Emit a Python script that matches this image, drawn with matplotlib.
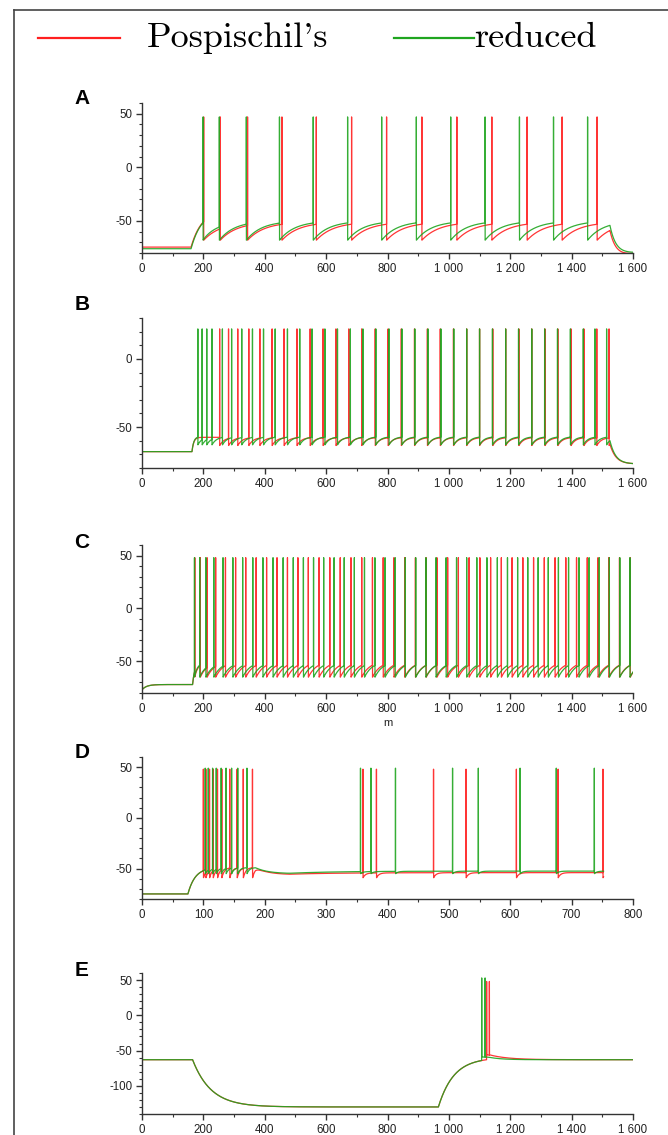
import numpy as np
import matplotlib
matplotlib.use("Agg")
import matplotlib.pyplot as plt
from matplotlib.ticker import MultipleLocator, FuncFormatter
from matplotlib.lines import Line2D

# spike times (ms), per panel and per model
A_red = [201, 255, 344, 456, 568, 683, 797, 912, 1026, 1140, 1255, 1369, 1483]
A_grn = [199, 252, 340, 448, 558, 670, 781, 894, 1006, 1118, 1230, 1341, 1452]

B_red = [253, 282, 312, 348, 384, 424, 463, 505, 548, 590, 632, 674, 716, 760,
         802, 845, 888, 930, 972, 1015, 1058, 1100, 1143, 1185, 1228, 1270, 1313,
         1355, 1398, 1440, 1482, 1522]
B_grn = [182, 196, 211, 228, 262, 292, 325, 360, 396, 434, 474, 514, 554, 596,
         637, 679, 720, 762, 805, 847, 889, 932, 974, 1016, 1058, 1100, 1142, 1185,
         1227, 1270, 1312, 1354, 1396, 1438, 1476, 1514]

C_red = [172, 190, 212, 240, 272, 305, 338, 372, 406, 440, 474, 508, 542, 577,
         612, 646, 681, 716, 751, 786, 821, 856, 891, 926, 961, 996, 1031, 1066,
         1101, 1136, 1171, 1206, 1241, 1276, 1311, 1346, 1381, 1416, 1451, 1486,
         1521, 1556, 1591]
C_grn = [171, 188, 208, 234, 264, 296, 328, 361, 394, 427, 460, 493, 526, 559,
         592, 626, 659, 692, 725, 759, 792, 825, 858, 892, 925, 958, 991, 1025,
         1058, 1091, 1124, 1158, 1191, 1224, 1257, 1291, 1324, 1357, 1390, 1424,
         1457, 1490, 1523, 1557, 1590]

D_red = [100, 104, 110, 116, 123, 130, 143, 155, 165, 180, 360, 382, 475, 528, 610, 678, 751]
D_grn = [103, 108, 115, 121, 129, 137, 146, 156, 171, 356, 373, 413, 506, 548, 616, 675, 737]

E_red = [1123, 1132]
E_grn = [1107, 1118]

# subthreshold drive: (time, level it relaxes to, time constant)
A_ev = {"t": [0, 160, 200, 1525], "red": [-74.5, -40, -51, -79], "grn": [-76, -40, -50, -79],
        "tau": [5, 35, 20, 20]}
B_ev = {"t": [0, 163, 1525], "red": [-68, -57.5, -77], "grn": [-68, -57, -77], "tau": [5, 6, 18]}
C_ev = {"t": [0, 165], "red": [-72, -50], "grn": [-72, -50], "tau": [15, 8]}
D_ev = {"t": [0, 75, 185, 240], "red": [-75, -49, -56, -54], "grn": [-75, -49, -55, -52.5],
        "tau": [5, 12, 20, 80]}
E_ev = {"t": [0, 165, 966, 1130], "red": [-63, -130, -60, -63], "grn": [-63, -130, -60, -63],
        "tau": [5, 60, 50, 40]}

# spike shape: peak, after-spike reset, reset time constant
spike_par = {
    "A": {"red": (47, -68, 55), "grn": (47, -68, 50)},
    "B": {"red": (22, -63.5, 15), "grn": (22, -63, 15)},
    "C": {"red": (48, -65, 25), "grn": (48, -65, 25)},
    "D": {"red": (48, -59, 4), "grn": (49, -55, 4)},
    "E": {"red": (48, -56, 60), "grn": (53, -59, 40)},
}


def membrane(t_end, ev_t, ev_v, ev_tau, spikes, peak, reset, tau_ahp, v0=None, dt=0.2):
    t = np.arange(0, t_end + dt, dt)
    base = np.empty_like(t)
    x = ev_v[0] if v0 is None else v0
    k = 0
    for i, ti in enumerate(t):
        while k + 1 < len(ev_t) and ti >= ev_t[k + 1]:
            k += 1
        x += (ev_v[k] - x) * dt / ev_tau[k]
        base[i] = x
    v = base.copy()
    sp = np.asarray(spikes, dtype=float)
    for j, ts in enumerate(sp):
        i0 = int(round(ts / dt))
        i1 = int(round(sp[j + 1] / dt)) if j + 1 < len(sp) else len(t)
        s = t[i0 + 1:i1] - t[i0 + 1]
        v[i0 + 1:i1] = base[i0 + 1:i1] + (reset - base[i0]) * np.exp(-s / tau_ahp)
        v[i0] = peak
    return t, v


RED = "#ff1f1f"
GRN = "#1fa51f"

fmt = FuncFormatter(lambda x, p: "{:,}".format(int(x)).replace(",", " "))

fig = plt.figure(figsize=(6.68, 11.35), dpi=100)

# frame around the figure
fig.add_artist(Line2D([14 / 668, 14 / 668], [1 - 10 / 1135, 0], color="#444444", lw=1.2))
fig.add_artist(Line2D([14 / 668, 1], [1 - 10 / 1135, 1 - 10 / 1135], color="#444444", lw=1.2))

# legend
ly = 1 - 38 / 1135
fig.add_artist(Line2D([38 / 668, 120 / 668], [ly, ly], color=RED, lw=1.6))
fig.add_artist(Line2D([394 / 668, 474 / 668], [ly, ly], color=GRN, lw=1.6))
fig.text(147 / 668, 1 - 47 / 1135, "Pospischil's", family="cmr10", fontsize=26, va="baseline")
fig.text(474 / 668, 1 - 47 / 1135, "reduced", family="cmr10", fontsize=26, va="baseline")

panels = [
    ("A", A_ev, A_red, A_grn, 1600, (-80, 60), 103, 253, 98, None, None),
    ("B", B_ev, B_red, B_grn, 1600, (-80, 30), 318, 468, 305, None, None),
    ("C", C_ev, C_red, C_grn, 1600, (-80, 60), 545, 693, 542, "m", -77),
    ("D", D_ev, D_red, D_grn, 752, (-80, 60), 757, 899, 753, None, None),
    ("E", E_ev, E_red, E_grn, 1600, (-140, 60), 973, 1114, 970, None, None),
]
xmax = {"A": 1600, "B": 1600, "C": 1600, "D": 800, "E": 1600}

for name, ev, sr, sg, t_end, ylim, top, bot, lab_y, xlabel, v0 in panels:
    ax = fig.add_axes([142 / 668, 1 - bot / 1135, 491 / 668, (bot - top) / 1135])
    for key, spk, col in (("red", sr, RED), ("grn", sg, GRN)):
        pk, rs, ta = spike_par[name][key]
        t, v = membrane(t_end, ev["t"], ev[key], ev["tau"], spk, pk, rs, ta, v0=v0)
        ax.plot(t, v, color=col, lw=0.9, alpha=0.9)
    ax.set_xlim(0, xmax[name])
    ax.set_ylim(*ylim)
    for s in ("top", "right"):
        ax.spines[s].set_visible(False)
    for s in ("left", "bottom"):
        ax.spines[s].set_color("#333333")
        ax.spines[s].set_linewidth(1.0)
    ax.xaxis.set_major_locator(MultipleLocator(200 if xmax[name] == 1600 else 100))
    ax.xaxis.set_minor_locator(MultipleLocator(100 if xmax[name] == 1600 else 50))
    ax.yaxis.set_major_locator(MultipleLocator(50))
    ax.yaxis.set_minor_locator(MultipleLocator(10))
    ax.xaxis.set_major_formatter(fmt)
    ax.yaxis.set_major_formatter(FuncFormatter(lambda x, p: "%d" % x))
    ax.tick_params(which="major", length=4, width=1.0, color="#333333",
                   labelsize=8.3, labelcolor="#222222", pad=3)
    ax.tick_params(which="minor", length=2.5, width=0.8, color="#333333")
    for lbl in ax.get_xticklabels() + ax.get_yticklabels():
        lbl.set_family("Liberation Sans")
    if xlabel:
        ax.set_xlabel(xlabel, fontsize=8, family="Liberation Sans", labelpad=2, color="#222222")
    fig.text(82 / 668, 1 - lab_y / 1135, name, family="Liberation Sans", fontweight="bold",
             fontsize=15, ha="center", va="center")

fig.savefig("out.png", dpi=100)
